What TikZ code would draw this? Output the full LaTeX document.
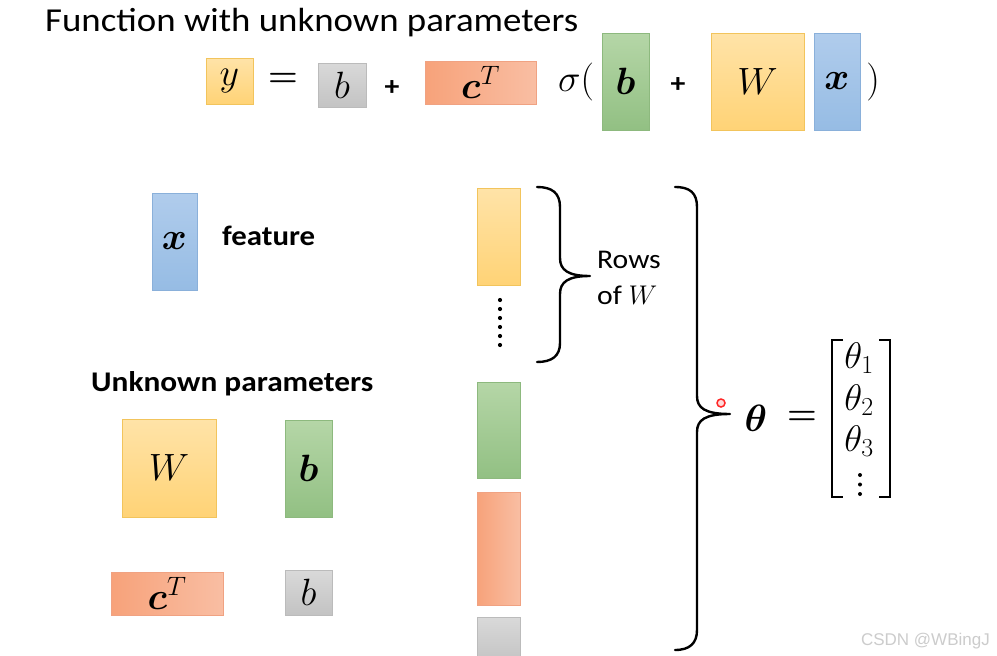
\RequirePackage{fix-cm}
\documentclass[tikz,border=0pt]{standalone}
\usepackage[no-math]{fontspec}
\usepackage{amsmath}
\usepackage{bm}
\setmainfont{Carlito}[FakeStretch=1.1]
\newfontfamily\wmfont{Liberation Sans}
\definecolor{ytop}{HTML}{FFE3A8}
\definecolor{ybot}{HTML}{FFD376}
\definecolor{yline}{HTML}{F2C45C}
\definecolor{gtop}{HTML}{B5D6A7}
\definecolor{gbot}{HTML}{92C083}
\definecolor{gline}{HTML}{8DB97E}
\definecolor{oleft}{HTML}{F7A27A}
\definecolor{oright}{HTML}{F9BEA3}
\definecolor{oline}{HTML}{F0A282}
\definecolor{ktop}{HTML}{D9D9D9}
\definecolor{kbot}{HTML}{C3C3C3}
\definecolor{kline}{HTML}{BBBBBB}
\definecolor{btop}{HTML}{B0CCEC}
\definecolor{bbot}{HTML}{96BCE4}
\definecolor{bline}{HTML}{8AB0DA}
\newcommand\mfont{\fontsize{38}{42}\selectfont}
\tikzset{
  pbox/.style={rectangle, inner sep=0pt, line width=0.8pt, font=\mfont},
  ybox/.style={pbox, draw=yline, top color=ytop, bottom color=ybot},
  gbox/.style={pbox, draw=gline, top color=gtop, bottom color=gbot},
  obox/.style={pbox, draw=oline, left color=oleft, right color=oright},
  kbox/.style={pbox, draw=kline, top color=ktop, bottom color=kbot},
  bbox/.style={pbox, draw=bline, top color=btop, bottom color=bbot},
  mtxt/.style={inner sep=0pt, font=\mfont},
  eqtxt/.style={inner sep=0pt, font=\fontsize{34}{38}\selectfont},
  ttxt/.style={inner sep=0pt, font=\fontsize{37}{40}\selectfont},
  ptxt/.style={inner sep=0pt, font=\bfseries\fontsize{27}{30}\selectfont},
  lbl/.style={inner sep=0pt, anchor=base west},
  bracestyle/.style={line width=2.4pt, line cap=round, line join=round},
  brkstyle/.style={line width=2.4pt, line cap=butt, line join=miter},
  dotstyle/.style={circle, fill=black, inner sep=0pt, minimum size=4.2pt}
}
\begin{document}
\begin{tikzpicture}[x=1pt,y=-1pt]
\useasboundingbox[fill=white] (0,0) rectangle (997,656);
% title
\node[lbl, font=\fontsize{33.5}{38}\selectfont] (title) at (45,31) {Function with unknown parameters};
% top equation
\node[ybox, minimum width=47, minimum height=46] (ey) at (229.5,81) {$y$};
\node[eqtxt] (eq1) at (283,80) {$\boldsymbol{=}$};
\node[kbox, minimum width=48, minimum height=44] (eb) at (342,85) {$b$};
\node[ptxt] (pl1) at (392,88) {+};
\node[obox, minimum width=111, minimum height=43] (ec) at (480.5,82.5) {$\bm{c}^T$};
\node[mtxt] (sig) at (576,82) {$\sigma($};
\node[gbox, minimum width=47, minimum height=97] (ebb) at (625.5,81.5) {$\bm{b}$};
\node[ptxt] (pl2) at (678,85) {+};
\node[ybox, minimum width=93, minimum height=97] (eW) at (757.5,81.5) {$W$};
\node[bbox, minimum width=46, minimum height=97] (ex) at (837,81.5) {$\bm{x}$};
\node[mtxt] (cp) at (873,82) {$)$};
% feature
\node[bbox, minimum width=45, minimum height=97] (fx) at (174.5,241.5) {$\bm{x}$};
\node[lbl, font=\bfseries\fontsize{28}{32}\selectfont] (feat) at (222,245) {feature};
% unknown parameters
\node[lbl, font=\bfseries\fontsize{28.5}{32}\selectfont] (unk) at (91,391) {Unknown parameters};
\node[ybox, minimum width=94, minimum height=98] (uW) at (169,468) {$W$};
\node[gbox, minimum width=47, minimum height=97] (ub) at (308.5,468.5) {$\bm{b}$};
\node[obox, minimum width=112, minimum height=43] (uc) at (167,593.5) {$\bm{c}^T$};
\node[kbox, minimum width=47, minimum height=45] (ubs) at (308.5,592.5) {$b$};
% column
\node[ybox, minimum width=43, minimum height=97] (r1) at (498.5,236.5) {};
\foreach \i in {0,...,5} \node[dotstyle] (d\i) at (500,300+9*\i) {};
\node[gbox, minimum width=43, minimum height=96] (r2) at (498.5,430) {};
\node[obox, minimum width=43, minimum height=113] (r3) at (498.5,548.5) {};
\node[kbox, minimum width=43, minimum height=45] (r4) at (498.5,640) {};
% small brace
\draw[bracestyle] (537,187) .. controls (552,187) and (560,193) .. (560,207) -- (560,258)
  .. controls (560,270) and (568,276) .. (590,276)
  .. controls (568,276) and (560,282) .. (560,294) -- (560,343)
  .. controls (560,356) and (552,362) .. (537,362);
\node[lbl, font=\fontsize{27}{30}\selectfont] (rows) at (597,268) {Rows};
\node[lbl, font=\fontsize{27}{30}\selectfont] (ofw) at (597,304) {of $W$};
% big brace
\draw[bracestyle] (675,187) .. controls (690,187) and (697,193) .. (697,207) -- (697,396)
  .. controls (697,408) and (705,414) .. (730,414)
  .. controls (705,414) and (697,420) .. (697,432) -- (697,630)
  .. controls (697,643) and (690,650) .. (675,650);
\node[circle, draw=red!85, line width=1.5pt, fill=red!15, inner sep=0pt, minimum size=8pt] (laser) at (721,403) {};
% theta
\node[mtxt] (th) at (756,418) {$\bm{\theta}$};
\node[eqtxt] (eq2) at (802,418) {$\boldsymbol{=}$};
\node[ttxt] (t1) at (859,358) {$\theta_1$};
\node[ttxt] (t2) at (859,400) {$\theta_2$};
\node[ttxt] (t3) at (859,441) {$\theta_3$};
\foreach \i in {0,1,2} \node[dotstyle, minimum size=4pt] (v\i) at (860,475+9.5*\i) {};
\draw[brkstyle] (843,340) -- (832,340) -- (832,497) -- (843,497);
\draw[brkstyle] (879,340) -- (890,340) -- (890,497) -- (879,497);
% watermark
\node[inner sep=0pt, anchor=base east, font=\wmfont\fontsize{17}{20}\selectfont, text=black!20] (wm) at (990,645) {CSDN @WBingJ};
\end{tikzpicture}
\end{document}
